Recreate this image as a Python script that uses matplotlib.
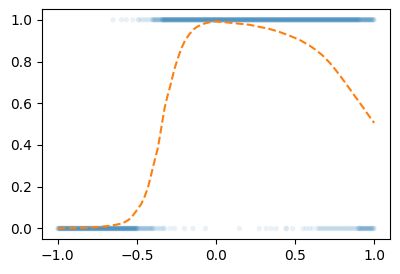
import numpy as np
import matplotlib
matplotlib.use("Agg")
import matplotlib.pyplot as plt

# Observations with y = 1 (top row): sparse points listed one by one,
# dense stretches given as (start, end, count)
top_single_x = [-0.651, -0.598, -0.567, -0.525, -0.49, -0.487]
top_dense = [(-0.47, -0.40, 6), (-0.40, -0.34, 15), (-0.34, 0.90, 560), (0.90, 1.0, 35)]

# Observations with y = 0 (bottom row)
bottom_single_x = [-0.325, -0.29, -0.262, -0.199, -0.146, -0.066, 0.148, 0.274,
                   0.317, 0.348, 0.380, 0.443, 0.446, 0.485, 0.55, 0.57, 0.59, 0.61]
bottom_dense = [(-1.0, -0.50, 228), (-0.50, -0.40, 20), (-0.40, -0.33, 7),
                (0.64, 0.90, 27), (0.90, 1.0, 27)]

# Fitted probability curve (dashed orange)
curve_x = [-1.0, -0.9, -0.8, -0.735, -0.68, -0.64, -0.6, -0.575, -0.55, -0.525,
           -0.5, -0.472, -0.45, -0.43, -0.415, -0.399, -0.383, -0.367, -0.346,
           -0.325, -0.31, -0.293, -0.262, -0.24, -0.22, -0.195, -0.167, -0.14,
           -0.12, -0.083, -0.04, 0.0, 0.085, 0.211, 0.338, 0.40, 0.464, 0.53,
           0.59, 0.63, 0.674, 0.72, 0.758, 0.80, 0.842, 0.88, 0.926, 0.96, 1.0]
curve_y = [0.001, 0.002, 0.004, 0.008, 0.012, 0.017, 0.023, 0.031, 0.043, 0.063,
           0.088, 0.118, 0.155, 0.197, 0.242, 0.292, 0.340, 0.387, 0.482,
           0.577, 0.625, 0.672, 0.766, 0.818, 0.861, 0.902, 0.932, 0.955,
           0.966, 0.980, 0.988, 0.992, 0.986, 0.976, 0.956, 0.942, 0.924, 0.903,
           0.877, 0.856, 0.829, 0.793, 0.758, 0.716, 0.672, 0.632, 0.584, 0.547, 0.506]


def expand(single, dense):
    xs = list(single)
    for start, end, count in dense:
        xs.extend(np.linspace(start, end, count))
    return np.array(xs)


x_top = expand(top_single_x, top_dense)
x_bottom = expand(bottom_single_x, bottom_dense)
x_all = np.concatenate([x_top, x_bottom])
y_all = np.concatenate([np.ones(len(x_top)), np.zeros(len(x_bottom))])

fig = plt.figure(figsize=(4, 2.74), dpi=100)
ax = fig.add_axes([0.105, 0.128, 0.87, 0.838])

ax.scatter(x_all, y_all, s=15, alpha=0.09, color="#1f77b4", edgecolors="none")
ax.plot(curve_x, curve_y, color="#ff7f0e", linestyle="--", linewidth=1.5)

ax.set_xticks([-1.0, -0.5, 0.0, 0.5, 1.0])
ax.set_yticks([0.0, 0.2, 0.4, 0.6, 0.8, 1.0])

fig.savefig("out.png", dpi=100)
